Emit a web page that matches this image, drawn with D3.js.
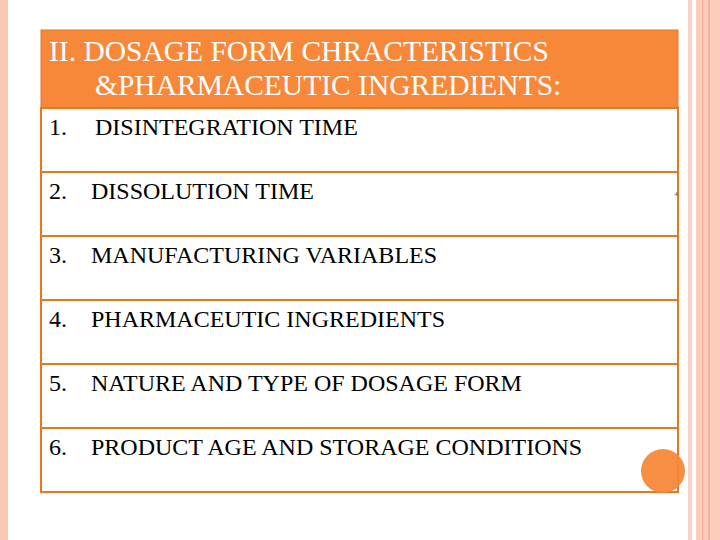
<!DOCTYPE html>
<html><head><meta charset="utf-8">
<script src="https://cdn.jsdelivr.net/npm/d3@7"></script>
<style>body{margin:0;background:#fff}svg{display:block}</style>
</head><body>
<script>
const titleLines = ["II. DOSAGE FORM CHRACTERISTICS", "&PHARMACEUTIC INGREDIENTS:"];
const itemNumbers = ["1.", "2.", "3.", "4.", "5.", "6."];
const itemLabels = ["DISINTEGRATION TIME", "DISSOLUTION TIME", "MANUFACTURING VARIABLES",
  "PHARMACEUTIC INGREDIENTS", "NATURE AND TYPE OF DOSAGE FORM", "PRODUCT AGE AND STORAGE CONDITIONS"];

const W = 720, H = 540;
const svg = d3.select("body").append("svg").attr("width", W).attr("height", H);
const font = "'Liberation Serif','Times New Roman',serif";

svg.append("rect").attr("x",0).attr("y",0).attr("width",8).attr("height",H).attr("fill","#F9C9B6");
svg.append("rect").attr("x",688).attr("y",0).attr("width",4).attr("height",H).attr("fill","#FBD3C3");
svg.append("rect").attr("x",696).attr("y",0).attr("width",24).attr("height",H).attr("fill","#FCCDBB");
svg.append("rect").attr("x",702).attr("y",0).attr("width",1.5).attr("height",H).attr("fill","#F4B29B");
svg.append("rect").attr("x",708).attr("y",0).attr("width",2).attr("height",H).attr("fill","#F4B29B");

const x0 = 41, x1 = 678, headTop = 30, headBot = 108;
const y = d3.scaleBand().domain(d3.range(itemLabels.length)).range([headBot, 492]);

svg.append("rect").attr("x",x0).attr("y",headTop).attr("width",x1-x0).attr("height",headBot-headTop)
  .attr("fill","#F7883A").attr("stroke","#E07828").attr("stroke-width",1);
svg.selectAll("text.t").data(titleLines).join("text")
  .attr("x",(d,i)=> i ? 95 : 49).attr("y",(d,i)=>61+i*34)
  .attr("font-family",font).attr("font-size",29.5).attr("fill","#fff").text(d=>d);

svg.append("rect").attr("x",x0).attr("y",headBot).attr("width",x1-x0).attr("height",492-headBot)
  .attr("fill","#fff").attr("stroke","#E87722").attr("stroke-width",2);
svg.selectAll("line.r").data(d3.range(1,itemLabels.length)).join("line")
  .attr("x1",x0).attr("x2",x1).attr("y1",d=>y(d)).attr("y2",d=>y(d))
  .attr("stroke","#E87722").attr("stroke-width",2);
svg.selectAll("text.n").data(itemNumbers).join("text")
  .attr("x",49).attr("y",(d,i)=>y(i)+27)
  .attr("font-family",font).attr("font-size",24).attr("fill","#000").text(d=>d);
svg.selectAll("text.l").data(itemLabels).join("text")
  .attr("x",(d,i)=> i===0 ? 95 : 91).attr("y",(d,i)=>y(i)+27)
  .attr("font-family",font).attr("font-size",24).attr("fill","#000").text(d=>d);

svg.append("text").attr("x",676).attr("y",196).attr("font-family",font).attr("font-size",7)
  .attr("fill","#666").attr("text-anchor","middle").text("4");
svg.append("circle").attr("cx",663).attr("cy",471).attr("r",22).attr("fill","#F7883A").attr("opacity",0.95);
</script>
</body></html>
